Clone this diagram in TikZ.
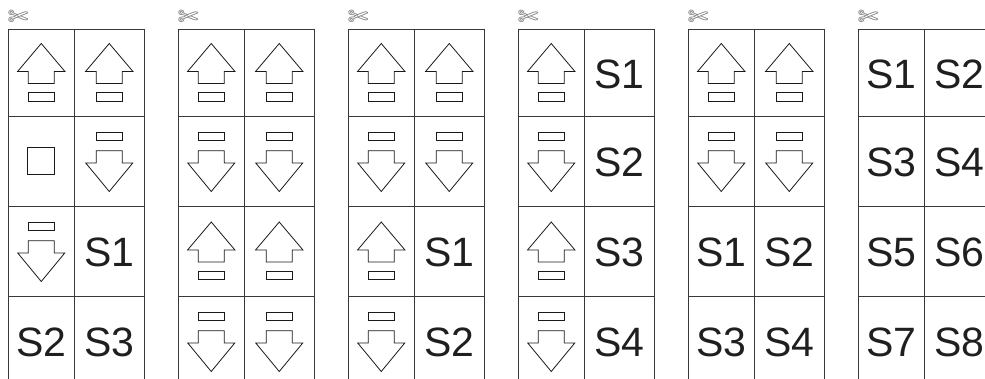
\documentclass[tikz,border=0pt]{standalone}
\usepackage{fontspec}
\setmainfont{Liberation Sans}
\newfontfamily\symfont{DejaVu Sans}
\begin{document}
\begin{tikzpicture}[x=1pt,y=-1pt,
  gridline/.style={draw=black!78, line width=0.9pt},
  shp/.style={draw=black!90, line width=0.8pt, line join=miter},
  lbl/.style={font=\fontsize{41}{41}\selectfont, text=black!88, inner sep=0pt, yshift=-1.5pt},
  scis/.style={font=\symfont\fontsize{25}{25}\selectfont, text=black!55, inner sep=0pt},
  uparr/.pic={\draw[shp] (0,-29) -- (23.7,-1) -- (13,-1) -- (13,11) -- (-13,11) -- (-13,-1) -- (-23.7,-1) -- cycle;
              \draw[shp] (-13.3,20.2) rectangle (13.3,28.5);},
  downarr/.pic={\draw[shp] (0,30.5) -- (23.5,2) -- (13,2) -- (13,-10.2) -- (-13,-10.2) -- (-13,2) -- (-23.5,2) -- cycle;
              \draw[shp] (-13.3,-28.5) rectangle (13.3,-20.2);},
  sqbox/.pic={\draw[shp] (-13.5,-13.5) rectangle (13.5,13.5);}
]
\useasboundingbox (0,0) rectangle (985,378);
\clip (0,0) rectangle (985,378);
\foreach \p in {1,...,6} {
  \pgfmathsetmacro\L{8+170*(\p-1)}
  \foreach \r/\yy in {1/72.5,2/161,3/251,4/341} {
    \coordinate (p\p r\r a) at (\L+33.25,\yy);
    \coordinate (p\p r\r b) at (\L+101.25,\yy);
  }
  \draw[gridline] (\L,390) -- (\L,29) -- (\L+136,29) -- (\L+136,390);
  \draw[gridline] (\L+66.5,29) -- (\L+66.5,390);
  \foreach \hy in {116,206,296} {
    \draw[gridline] (\L,\hy) -- (\L+136,\hy);
  }
  \node[scis] (sc\p) at (\L+10,17.5) {✄};
}
% panel 1
\pic at (p1r1a) {uparr}; \pic at (p1r1b) {uparr};
\pic at (p1r2a) {sqbox}; \pic at (p1r2b) {downarr};
\pic at (p1r3a) {downarr}; \node[lbl] (t1s1) at (p1r3b) {S1};
\node[lbl] (t1s2) at (p1r4a) {S2}; \node[lbl] (t1s3) at (p1r4b) {S3};
% panel 2
\pic at (p2r1a) {uparr}; \pic at (p2r1b) {uparr};
\pic at (p2r2a) {downarr}; \pic at (p2r2b) {downarr};
\pic at (p2r3a) {uparr}; \pic at (p2r3b) {uparr};
\pic at (p2r4a) {downarr}; \pic at (p2r4b) {downarr};
% panel 3
\pic at (p3r1a) {uparr}; \pic at (p3r1b) {uparr};
\pic at (p3r2a) {downarr}; \pic at (p3r2b) {downarr};
\pic at (p3r3a) {uparr}; \node[lbl] (t3s1) at (p3r3b) {S1};
\pic at (p3r4a) {downarr}; \node[lbl] (t3s2) at (p3r4b) {S2};
% panel 4
\pic at (p4r1a) {uparr}; \node[lbl] (t4s1) at (p4r1b) {S1};
\pic at (p4r2a) {downarr}; \node[lbl] (t4s2) at (p4r2b) {S2};
\pic at (p4r3a) {uparr}; \node[lbl] (t4s3) at (p4r3b) {S3};
\pic at (p4r4a) {downarr}; \node[lbl] (t4s4) at (p4r4b) {S4};
% panel 5
\pic at (p5r1a) {uparr}; \pic at (p5r1b) {uparr};
\pic at (p5r2a) {downarr}; \pic at (p5r2b) {downarr};
\node[lbl] (t5s1) at (p5r3a) {S1}; \node[lbl] (t5s2) at (p5r3b) {S2};
\node[lbl] (t5s3) at (p5r4a) {S3}; \node[lbl] (t5s4) at (p5r4b) {S4};
% panel 6
\node[lbl] (t6s1) at (p6r1a) {S1}; \node[lbl] (t6s2) at (p6r1b) {S2};
\node[lbl] (t6s3) at (p6r2a) {S3}; \node[lbl] (t6s4) at (p6r2b) {S4};
\node[lbl] (t6s5) at (p6r3a) {S5}; \node[lbl] (t6s6) at (p6r3b) {S6};
\node[lbl] (t6s7) at (p6r4a) {S7}; \node[lbl] (t6s8) at (p6r4b) {S8};
\end{tikzpicture}
\end{document}
